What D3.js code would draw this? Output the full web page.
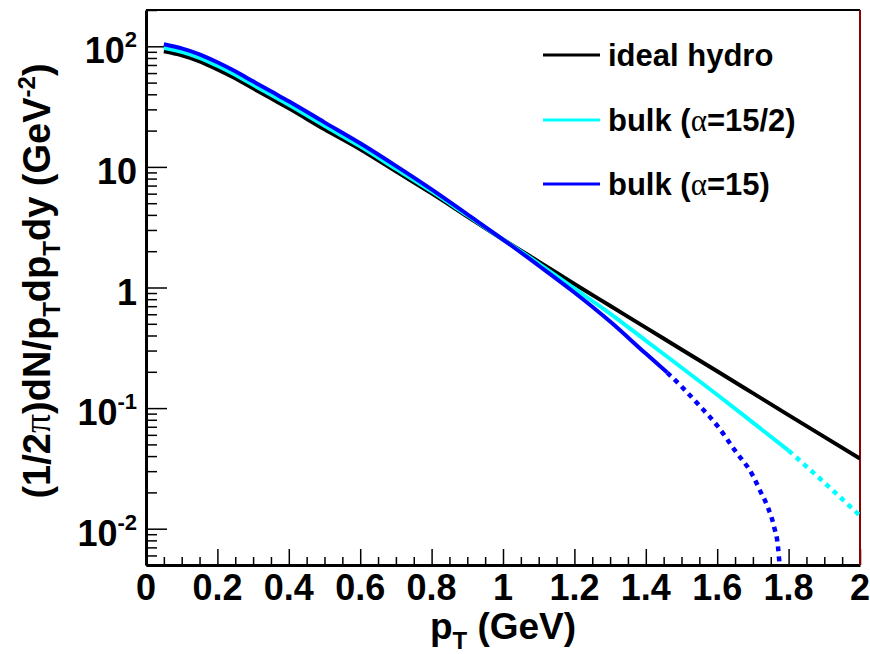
<!DOCTYPE html>
<html>
<head>
<meta charset="utf-8">
<script src="https://cdn.jsdelivr.net/npm/d3@7"></script>
<style>
  body { margin: 0; background: #fff; }
  text { font-family: "Liberation Sans", Arial, sans-serif; font-weight: bold; fill: #000; }
</style>
</head>
<body>
<div id="app"></div>
<script>
// spectra
const ptHydro = [0.05, 0.1, 0.15, 0.2, 0.25, 0.3, 0.35, 0.4, 0.5, 0.6, 0.7, 0.8, 0.9, 1.0, 1.1, 1.2, 1.3, 1.4, 1.5, 1.6, 1.7, 1.8, 1.9, 2.0]
const hydro = [90.9, 84.2, 75.1, 64.4, 54.3, 44.8, 37.0, 30.6, 20.5, 14.0, 9.18, 6.03, 3.88, 2.50, 1.64, 1.07, 0.705, 0.465, 0.306, 0.202, 0.133, 0.0875, 0.0577, 0.0381]

const ptBulk75 = [0.05, 0.1, 0.15, 0.2, 0.25, 0.3, 0.35, 0.4, 0.5, 0.6, 0.7, 0.8, 0.9, 1.0, 1.1, 1.2, 1.3, 1.4, 1.5, 1.6, 1.7, 1.8, 1.9, 2.0]
const bulk75 = [97.2, 90.0, 80.3, 68.9, 58.0, 47.9, 39.6, 32.7, 21.9, 14.8, 9.63, 6.26, 3.96, 2.50, 1.58, 0.981, 0.608, 0.363, 0.217, 0.129, 0.0758, 0.0444, 0.0241, 0.0128]

const ptBulk15 = [0.05, 0.1, 0.15, 0.2, 0.25, 0.3, 0.35, 0.4, 0.5, 0.6, 0.7, 0.8, 0.9, 1.0, 1.1, 1.2, 1.3, 1.4, 1.46, 1.5, 1.55, 1.6, 1.65, 1.7, 1.72, 1.74, 1.76, 1.77, 1.775]
const bulk15 = [103.9, 96.2, 85.8, 73.7, 62.0, 51.2, 42.3, 35.0, 23.4, 15.7, 10.2, 6.51, 4.04, 2.50, 1.52, 0.909, 0.522, 0.283, 0.197, 0.151, 0.105, 0.0716, 0.0444, 0.0275, 0.0207, 0.0155, 0.0102, 0.00723, 0.0049]

// curves turn dotted from these pT on
const bulk75DotFrom = 1.8
const bulk15DotFrom = 1.46

const xTicks = [0, 0.2, 0.4, 0.6, 0.8, 1, 1.2, 1.4, 1.6, 1.8, 2]
const yTicks = [0.01, 0.1, 1, 10, 100]
const yTickBase = ['10', '10', '1', '10', '10']
const yTickExp = ['-2', '-1', '', '', '2']
const legendNames = ['ideal hydro', 'bulk (α=15/2)', 'bulk (α=15)']

const W = 870, H = 654
const fL = 146, fR = 860, fT = 10, fB = 565

const x = d3.scaleLinear().domain([0, 2]).range([fL, fR])
const y = d3.scaleLog().domain([0.005, 200]).range([fB, fT])

const svg = d3.select('#app').append('svg')
  .attr('width', W).attr('height', H)

svg.append('clipPath').attr('id', 'clip')
  .append('rect').attr('x', fL).attr('y', fT)
  .attr('width', fR - fL).attr('height', fB - fT)

// minor ticks
const xMinor = d3.range(0, 2.0001, 0.05).map(d => +d.toFixed(2)).filter(d => !xTicks.some(t => Math.abs(t - d) < 1e-6))
const yMinor = []
for (let e = -3; e <= 2; e++) for (let m = 2; m <= 9; m++) {
  const v = m * Math.pow(10, e)
  if (v >= 0.005 && v <= 200) yMinor.push(v)
}

const gx = svg.append('g').attr('transform', `translate(0,${fB})`)
gx.call(d3.axisBottom(x).tickValues(xTicks).tickSizeInner(-16).tickSizeOuter(0).tickFormat(''))
gx.append('g').call(d3.axisBottom(x).tickValues(xMinor).tickSizeInner(-8).tickSizeOuter(0).tickFormat(''))
gx.selectAll('g > g > .domain').remove()
gx.selectAll('.domain').attr('stroke-width', 3)
gx.selectAll('line').attr('stroke-width', 1.5)

const gy = svg.append('g').attr('transform', `translate(${fL},0)`)
gy.call(d3.axisLeft(y).tickValues(yTicks).tickSizeInner(-21).tickSizeOuter(0).tickFormat(''))
gy.append('g').call(d3.axisLeft(y).tickValues(yMinor).tickSizeInner(-11).tickSizeOuter(0).tickFormat(''))
gy.selectAll('g > g > .domain').remove()
gy.selectAll('.domain').attr('stroke-width', 3)
gy.selectAll('line').attr('stroke-width', 1.5)

// frame top / right
svg.append('line').attr('x1', fL).attr('x2', fR).attr('y1', fT).attr('y2', fT)
  .attr('stroke', '#000').attr('stroke-width', 2)
svg.append('line').attr('x1', fR).attr('x2', fR).attr('y1', fT).attr('y2', fB)
  .attr('stroke', '#8b0000').attr('stroke-width', 2)

// tick labels
svg.append('g').selectAll('text').data(xTicks).enter().append('text')
  .attr('x', d => x(d)).attr('y', 600)
  .attr('text-anchor', 'middle')
  .style('font-size', '36px')
  .text(d => String(d))

const yl = svg.append('g').selectAll('text').data(yTicks).enter().append('text')
  .attr('x', 137).attr('y', d => y(d) + 17)
  .attr('text-anchor', 'end')
  .style('font-size', '36px')
yl.append('tspan').text((d, i) => yTickBase[i])
yl.append('tspan').attr('dy', -16).style('font-size', '22px').text((d, i) => yTickExp[i])

// axis titles
const xt = svg.append('text').attr('x', x(1)).attr('y', 639)
  .attr('text-anchor', 'middle').style('font-size', '37px')
xt.append('tspan').text('p')
xt.append('tspan').attr('dy', 10).style('font-size', '24px').text('T')
xt.append('tspan').attr('dy', -10).text(' (GeV)')

const yt = svg.append('text')
  .attr('transform', 'translate(50,281) rotate(-90)')
  .attr('text-anchor', 'middle').style('font-size', '38px')
yt.append('tspan').text('(1/2')
yt.append('tspan').style('font-family', '"Liberation Serif", serif').style('font-weight', 'normal').text('π')
yt.append('tspan').text(')dN/p')
yt.append('tspan').attr('dy', 10).style('font-size', '24px').text('T')
yt.append('tspan').attr('dy', -10).text('dp')
yt.append('tspan').attr('dy', 10).style('font-size', '24px').text('T')
yt.append('tspan').attr('dy', -10).text('dy (GeV')
yt.append('tspan').attr('dy', -15).style('font-size', '24px').text('-2')
yt.append('tspan').attr('dy', 15).text(')')

// curves
const series = [
  { pt: ptHydro, v: hydro, color: '#000000', dotFrom: null },
  { pt: ptBulk75, v: bulk75, color: '#00ffff', dotFrom: bulk75DotFrom },
  { pt: ptBulk15, v: bulk15, color: '#0000ff', dotFrom: bulk15DotFrom }
]

const line = d3.line()
  .x(d => x(d[0]))
  .y(d => y(d[1]))
  .curve(d3.curveMonotoneX)

const gc = svg.append('g').attr('clip-path', 'url(#clip)')
series.forEach(s => {
  const pts = s.pt.map((p, i) => [p, s.v[i]])
  const cut = s.dotFrom === null ? Infinity : s.dotFrom
  const solid = pts.filter(d => d[0] <= cut + 1e-9)
  const dotted = pts.filter(d => d[0] >= cut - 1e-9)
  gc.append('path').attr('d', line(solid))
    .attr('fill', 'none').attr('stroke', s.color).attr('stroke-width', 4)
  if (s.dotFrom !== null) {
    gc.append('path').attr('d', line(dotted))
      .attr('fill', 'none').attr('stroke', s.color).attr('stroke-width', 4.5)
      .attr('stroke-dasharray', '5 5')
  }
})

// legend
const legY = [55, 120, 184]
const lg = svg.append('g')
series.forEach((s, i) => {
  lg.append('line').attr('x1', 543).attr('x2', 600).attr('y1', legY[i]).attr('y2', legY[i])
    .attr('stroke', s.color).attr('stroke-width', 3)
  const t = lg.append('text').attr('x', 608).attr('y', legY[i] + 11).style('font-size', '31px')
  const parts = legendNames[i].split('α')
  t.append('tspan').text(parts[0])
  if (parts.length > 1) {
    t.append('tspan').style('font-family', '"Liberation Serif", serif').style('font-weight', 'normal').text('α')
    t.append('tspan').text(parts[1])
  }
})
</script>
</body>
</html>
